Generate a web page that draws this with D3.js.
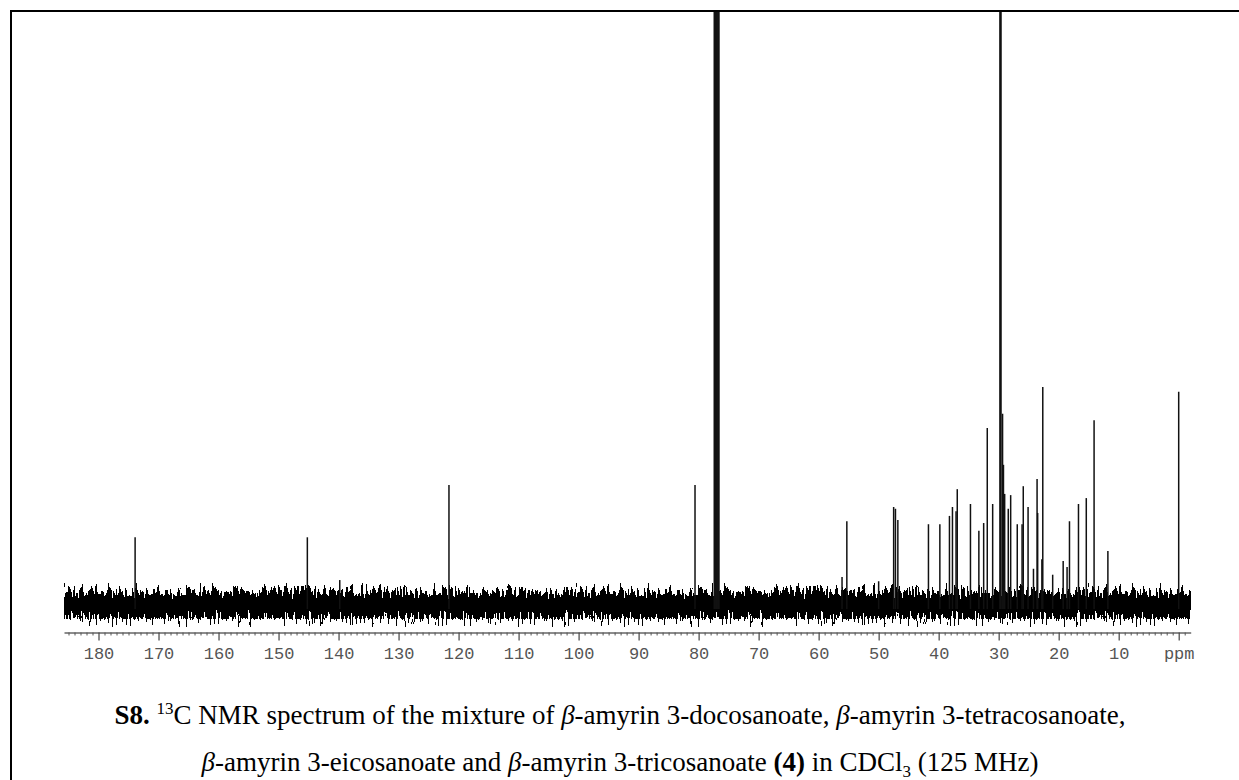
<!DOCTYPE html>
<html>
<head>
<meta charset="utf-8">
<script src="https://cdnjs.cloudflare.com/ajax/libs/d3/7.8.5/d3.min.js"></script>
<style>
  body { margin: 0; background: #fff; }
  svg { display: block; }
</style>
</head>
<body>
<div id="chart"></div>
<script>
// 13C peak positions (ppm) and heights (% of plot height, >100 = off scale)
const shifts = [173.9, 145.2, 139.8, 121.6, 80.6, 77.3, 77.0, 76.7, 56.1, 55.3,
  50.0, 47.5, 47.2, 46.8, 41.7, 39.8, 38.2, 37.7, 37.1, 36.9,
  34.7, 33.3, 32.5, 31.9, 31.0, 29.7, 29.35, 29.2, 29.0, 28.4,
  28.0, 26.9, 26.1, 25.9, 25.1, 24.2, 23.6, 23.5, 22.8, 22.65,
  21.0, 19.25, 18.6, 18.2, 16.7, 15.4, 14.1, 11.8, 0.0];
const heights = [11.4, 11.4, 4.2, 20.2, 20.2, 200, 200, 200, 4.7, 14.1,
  4.0, 16.5, 16.2, 14.3, 13.6, 13.6, 15.0, 16.5, 15.8, 19.5,
  17.0, 12.5, 13.8, 29.8, 17.0, 200, 32.2, 23.6, 18.7, 16.2,
  18.5, 13.6, 13.6, 20.0, 16.5, 6.1, 21.2, 15.5, 7.7, 36.7,
  5.1, 7.4, 6.4, 14.1, 17.0, 18.0, 31.1, 9.1, 35.9];
const majorTicks = [180, 170, 160, 150, 140, 130, 120, 110, 100, 90, 80, 70, 60, 50, 40, 30, 20, 10, 0];

const width = 1239, height = 780;

const svg = d3.select("#chart").append("svg")
  .attr("width", width)
  .attr("height", height);

const defs = svg.append("defs");

// x axis runs high ppm -> low ppm
const x = d3.scaleLinear().domain([185.75, -2.0]).range([64, 1190.7]);
const y = d3.scaleLinear().domain([0, 100]).range([605, 11]);

defs.append("clipPath").attr("id", "plotClip")
  .append("rect").attr("x", 60).attr("y", 12).attr("width", 1140).attr("height", 620);

// baseline noise texture (band gradient + turbulence threshold)
const grad = defs.append("linearGradient").attr("id", "band")
  .attr("x1", 0).attr("y1", 0).attr("x2", 0).attr("y2", 1);
grad.append("stop").attr("offset", "0%").attr("stop-color", "#000").attr("stop-opacity", 0);
grad.append("stop").attr("offset", "50%").attr("stop-color", "#000").attr("stop-opacity", 1);
grad.append("stop").attr("offset", "100%").attr("stop-color", "#000").attr("stop-opacity", 0);

const filt = defs.append("filter").attr("id", "noise")
  .attr("x", 0).attr("y", 0).attr("width", 1).attr("height", 1)
  .attr("color-interpolation-filters", "sRGB");
filt.append("feTurbulence").attr("type", "fractalNoise")
  .attr("baseFrequency", "0.5 0.05").attr("numOctaves", 2).attr("seed", 3).attr("result", "t");
filt.append("feColorMatrix").attr("in", "t").attr("type", "matrix")
  .attr("values", "0 0 0 0 0  0 0 0 0 0  0 0 0 0 0  1 0 0 0 0").attr("result", "ta");
filt.append("feComposite").attr("in", "SourceGraphic").attr("in2", "ta")
  .attr("operator", "arithmetic").attr("k1", 0).attr("k2", 1).attr("k3", 1.4).attr("k4", -0.58)
  .attr("result", "sum");
filt.append("feComponentTransfer").attr("in", "sum")
  .append("feFuncA").attr("type", "discrete").attr("tableValues", "0 1");

const plot = svg.append("g").attr("clip-path", "url(#plotClip)");

plot.append("rect")
  .attr("x", x.range()[0]).attr("y", y(0) - 22)
  .attr("width", x.range()[1] - x.range()[0]).attr("height", 44)
  .attr("fill", "url(#band)")
  .attr("filter", "url(#noise)");

// peaks
const peaks = shifts.map((s, i) => ({ ppm: s, h: heights[i] }));
plot.selectAll("line.peak")
  .data(peaks)
  .enter().append("line")
  .attr("class", "peak")
  .attr("x1", d => x(d.ppm)).attr("x2", d => x(d.ppm))
  .attr("y1", y(0) + 4).attr("y2", d => y(d.h))
  .attr("stroke", "#111")
  .attr("stroke-width", d => d.h > 100 ? 2.6 : 1.5);

// axis
const axisY = 632.5;
const minor = d3.range(-1, 186, 1).filter(v => v % 10 !== 0);

const axisMinor = d3.axisBottom(x).tickValues(minor).tickSize(3).tickSizeOuter(0).tickFormat("");
svg.append("g").attr("transform", `translate(0,${axisY})`).call(axisMinor)
  .call(g => g.selectAll("line").attr("stroke", "#555"))
  .call(g => g.select(".domain").attr("stroke", "#666").attr("stroke-width", 1.5));

const axisMajor = d3.axisBottom(x).tickValues(majorTicks).tickSize(8).tickSizeOuter(0)
  .tickFormat(d => d === 0 ? "ppm" : d);
svg.append("g").attr("transform", `translate(0,${axisY})`).call(axisMajor)
  .call(g => g.select(".domain").remove())
  .call(g => g.selectAll("line").attr("stroke", "#444").attr("stroke-width", 1.2))
  .call(g => g.selectAll("text")
    .attr("y", 14)
    .attr("font-family", "'Liberation Mono', 'Courier New', monospace")
    .attr("font-size", 17)
    .attr("fill", "#555"));

// frame (left and top edges of the figure box)
svg.append("line").attr("x1", 11).attr("x2", width).attr("y1", 11).attr("y2", 11)
  .attr("stroke", "#000").attr("stroke-width", 2);
svg.append("line").attr("x1", 11).attr("x2", 11).attr("y1", 10).attr("y2", height)
  .attr("stroke", "#000").attr("stroke-width", 2);

// caption
const cap = svg.append("g")
  .attr("font-family", "'Liberation Serif', 'Times New Roman', serif")
  .attr("font-size", 27)
  .attr("fill", "#000")
  .attr("text-anchor", "middle");

const l1 = cap.append("text").attr("x", 620).attr("y", 724);
l1.append("tspan").attr("font-weight", "bold").text("S8.");
l1.append("tspan").text(" ");
l1.append("tspan").attr("font-size", 17).attr("dy", -10).text("13");
l1.append("tspan").attr("dy", 10).text("C NMR spectrum of the mixture of ");
l1.append("tspan").attr("font-style", "italic").text("β");
l1.append("tspan").text("-amyrin 3-docosanoate, ");
l1.append("tspan").attr("font-style", "italic").text("β");
l1.append("tspan").text("-amyrin 3-tetracosanoate,");

const l2 = cap.append("text").attr("x", 620).attr("y", 771);
l2.append("tspan").attr("font-style", "italic").text("β");
l2.append("tspan").text("-amyrin 3-eicosanoate and ");
l2.append("tspan").attr("font-style", "italic").text("β");
l2.append("tspan").text("-amyrin 3-tricosanoate ");
l2.append("tspan").attr("font-weight", "bold").text("(4)");
l2.append("tspan").text(" in CDCl");
l2.append("tspan").attr("font-size", 17).attr("dy", 6).text("3");
l2.append("tspan").attr("dy", -6).text(" (125 MHz)");
</script>
</body>
</html>
